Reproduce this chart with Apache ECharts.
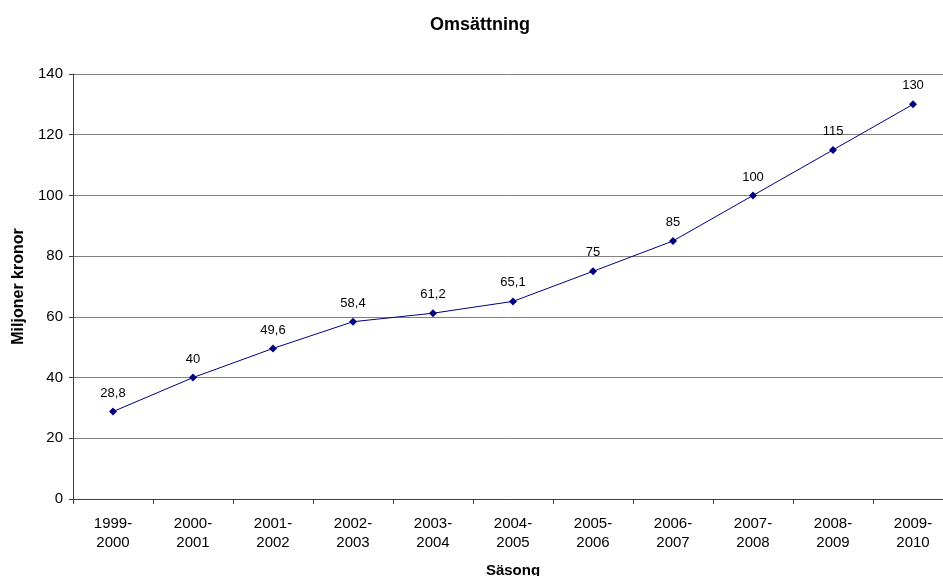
<!DOCTYPE html>
<html>
<head>
<meta charset="utf-8">
<script src="https://cdn.jsdelivr.net/npm/echarts@6/dist/echarts.min.js"></script>
<style>
  html, body { margin: 0; padding: 0; background: #fff; overflow: hidden; }
  #chart { width: 943px; height: 576px; }
</style>
</head>
<body>
<div id="chart"></div>
<script>
// säsonger och omsättning (miljoner kronor)
const seasons = ["1999-\n2000", "2000-\n2001", "2001-\n2002", "2002-\n2003", "2003-\n2004",
  "2004-\n2005", "2005-\n2006", "2006-\n2007", "2007-\n2008", "2008-\n2009", "2009-\n2010"];
const revenue = [28.8, 40, 49.6, 58.4, 61.2, 65.1, 75, 85, 100, 115, 130];

const chart = echarts.init(document.getElementById("chart"));
const font = "Liberation Sans, Arial, sans-serif";

const option = {
  animation: false,
  textStyle: { fontFamily: font },
  title: {
    text: "Omsättning",
    left: 475,
    top: 11,
    textAlign: "center",
    textStyle: { fontSize: 18, fontWeight: "bold", color: "#000", fontFamily: font },
  },
  grid: {
    left: 73,
    right: -10, // plotytan fortsätter förbi bildkanten
    top: 74,
    bottom: 77,
    containLabel: false,
    outerBoundsMode: "none",
  },
  xAxis: {
    type: "category",
    data: seasons,
    boundaryGap: true,
    name: "Säsong",
    nameLocation: "middle",
    nameGap: 64,
    nameTextStyle: { fontSize: 15, fontWeight: "bold", color: "#000", fontFamily: font },
    axisLine: { lineStyle: { color: "#404040", width: 1 } },
    axisTick: { show: true, length: 5, lineStyle: { color: "#404040" } },
    axisLabel: { color: "#000", fontSize: 15, lineHeight: 19, margin: 15, fontFamily: font },
    splitLine: { show: false },
  },
  yAxis: {
    type: "value",
    min: 0,
    max: 140,
    interval: 20,
    name: "Miljoner kronor",
    nameLocation: "middle",
    nameGap: 45,
    nameTextStyle: { fontSize: 16, fontWeight: "bold", color: "#000", fontFamily: font },
    axisLine: { show: true, lineStyle: { color: "#404040", width: 1 } },
    axisTick: { show: true, length: 4, lineStyle: { color: "#404040" } },
    axisLabel: { color: "#000", fontSize: 15, margin: 10, fontFamily: font },
    splitLine: { show: true, lineStyle: { color: "#808080", width: 1 } },
  },
  series: [
    {
      type: "line",
      data: revenue,
      symbol: "diamond",
      symbolSize: 8,
      itemStyle: { color: "#000080" },
      lineStyle: { color: "#000080", width: 1 },
      label: {
        show: true,
        position: "top",
        distance: 8,
        color: "#000",
        fontSize: 13,
        fontFamily: font,
        formatter: (p) => String(p.value).replace(".", ","),
      },
    },
  ],
};

chart.setOption(option);
</script>
</body>
</html>
